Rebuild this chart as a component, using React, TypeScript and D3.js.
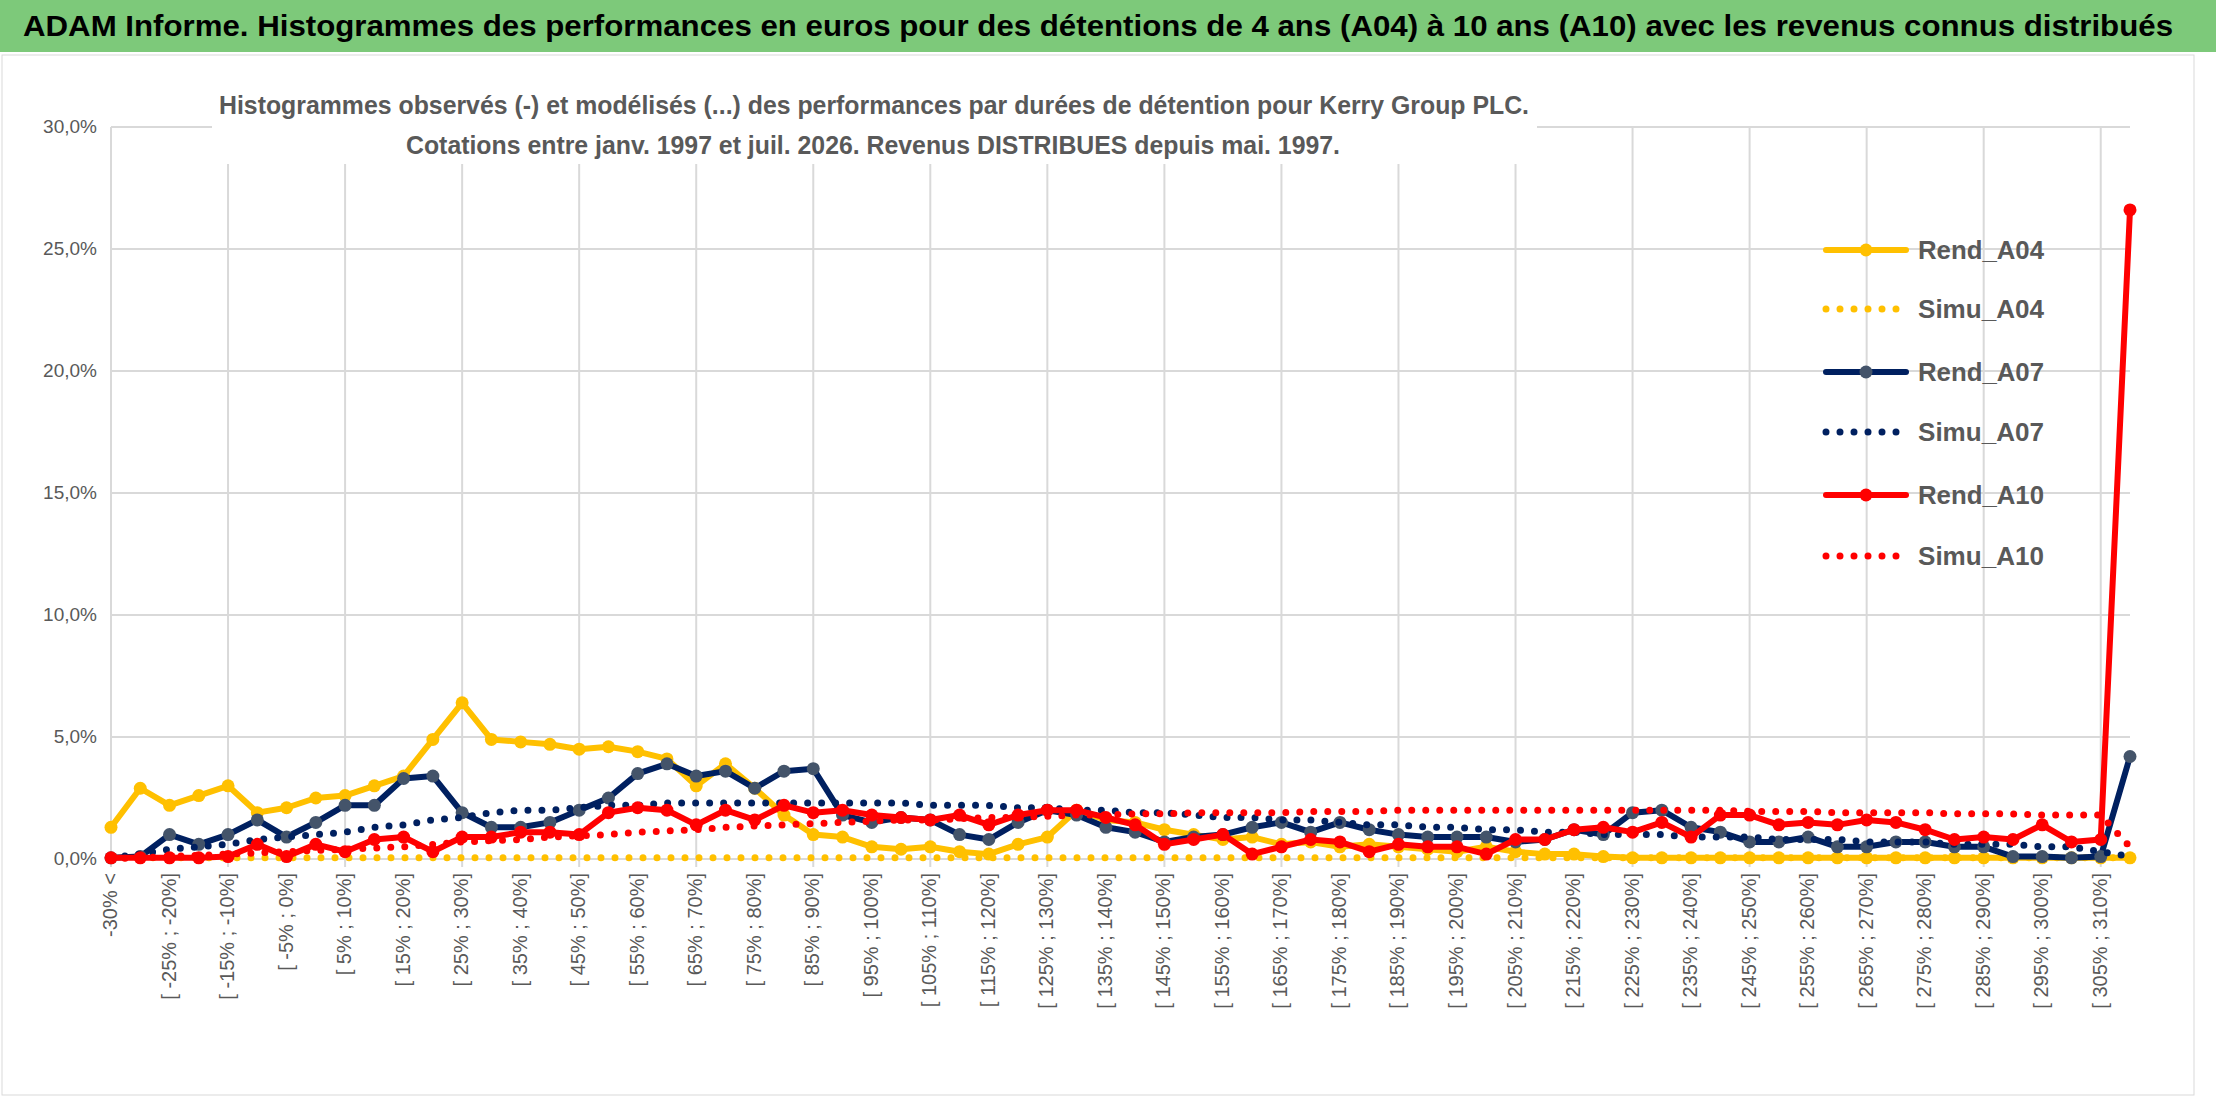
import React, { useEffect } from "react";
import * as d3 from "d3";

const rendA04 = [1.3,2.9,2.2,2.6,3.0,1.9,2.1,2.5,2.6,3.0,3.4,4.9,6.4,4.9,4.8,4.7,4.5,4.6,4.4,4.1,3.0,3.9,2.9,1.8,1.0,0.9,0.5,0.4,0.5,0.3,0.2,0.6,0.9,2.0,1.6,1.5,1.2,1.0,0.8,0.9,0.6,0.7,0.5,0.6,0.5,0.4,0.3,0.5,0.3,0.2,0.2,0.1,0.05,0.05,0.05,0.05,0.05,0.05,0.05,0.05,0.05,0.05,0.05,0.05,0.05,0.05,0.05,0.05,0.05,0.05];
const rendA07 = [0.05,0.1,1.0,0.6,1.0,1.6,0.9,1.5,2.2,2.2,3.3,3.4,1.9,1.3,1.3,1.5,2.0,2.5,3.5,3.9,3.4,3.6,2.9,3.6,3.7,1.8,1.5,1.7,1.6,1.0,0.8,1.5,2.0,1.8,1.3,1.1,0.7,0.9,1.0,1.3,1.5,1.1,1.5,1.2,1.0,0.9,0.9,0.9,0.7,0.8,1.2,1.0,1.9,2.0,1.3,1.1,0.7,0.7,0.9,0.5,0.5,0.7,0.7,0.5,0.5,0.1,0.1,0.05,0.1,4.2];
const rendA10 = [0.05,0.05,0.05,0.05,0.1,0.6,0.1,0.6,0.3,0.8,0.9,0.3,0.9,0.9,1.1,1.1,1.0,1.9,2.1,2.0,1.4,2.0,1.6,2.2,1.9,2.0,1.8,1.7,1.6,1.8,1.4,1.8,2.0,2.0,1.7,1.4,0.6,0.8,1.0,0.2,0.5,0.8,0.7,0.3,0.6,0.5,0.5,0.2,0.8,0.8,1.2,1.3,1.1,1.5,0.9,1.8,1.8,1.4,1.5,1.4,1.6,1.5,1.2,0.8,0.9,0.8,1.4,0.7,0.8,26.6];
const simuA04 = Array.from({ length: 70 }, () => 0.05);
const simuA07 = [0.05,0.2,0.4,0.5,0.6,0.8,0.9,1.0,1.1,1.3,1.4,1.6,1.7,1.9,2.0,2.0,2.1,2.2,2.2,2.3,2.3,2.3,2.3,2.3,2.3,2.3,2.3,2.3,2.2,2.2,2.2,2.1,2.1,2.0,2.0,1.9,1.9,1.8,1.7,1.7,1.6,1.6,1.5,1.4,1.4,1.3,1.3,1.2,1.2,1.1,1.1,1.0,1.0,1.0,0.9,0.9,0.9,0.8,0.8,0.8,0.7,0.7,0.7,0.6,0.6,0.6,0.5,0.5,0.3,0.1];
const simuA10 = [0.02,0.05,0.1,0.15,0.2,0.25,0.3,0.35,0.4,0.45,0.5,0.6,0.7,0.75,0.8,0.9,0.95,1.0,1.1,1.15,1.2,1.3,1.35,1.4,1.45,1.5,1.55,1.6,1.6,1.65,1.7,1.7,1.75,1.8,1.8,1.85,1.85,1.9,1.9,1.9,1.9,1.95,1.95,1.95,2.0,2.0,2.0,2.0,2.0,2.0,2.0,2.0,2.0,2.0,2.0,2.0,1.95,1.95,1.95,1.9,1.9,1.9,1.9,1.85,1.85,1.85,1.8,1.8,1.8,0.5];

const categories = ["-30% <", ...d3.range(68).map(k => `[ ${-30 + 5 * k}% ; ${-25 + 5 * k}%]`), "> 310%"];
const yTicks = [0, 5, 10, 15, 20, 25, 30];

const series = [
  { name: "Rend_A04", data: rendA04, color: "#FFC000", marker: "#FFC000", dotted: false },
  { name: "Simu_A04", data: simuA04, color: "#FFC000", marker: null, dotted: true },
  { name: "Rend_A07", data: rendA07, color: "#002060", marker: "#44546A", dotted: false },
  { name: "Simu_A07", data: simuA07, color: "#002060", marker: null, dotted: true },
  { name: "Rend_A10", data: rendA10, color: "#FF0000", marker: "#FF0000", dotted: false },
  { name: "Simu_A10", data: simuA10, color: "#FF0000", marker: null, dotted: true },
];

const FONT = "'Liberation Sans Narrow', 'Liberation Sans', Arial, sans-serif";

export default function App() {
  useEffect(() => { document.body.style.margin = "0"; }, []);
  const W = 2216, H = 1102;
  const x = d3.scaleLinear().domain([0, 69]).range([111, 2130]);
  const y = d3.scaleLinear().domain([0, 30]).range([859, 127]);
  const line = d3.line<number>().x((_, i) => x(i)).y(d => y(d));
  const grey = "#595959";
  const legendY = [250, 309, 372, 432, 495, 556];
  return (
    <svg width={W} height={H} style={{ display: "block", fontFamily: FONT }}>
      <rect x={0} y={0} width={W} height={H} fill="#fff" />
      <rect x={0} y={0} width={W} height={52} fill="#7DC97A" />
      <text x={W / 2 - 10} y={36} textAnchor="middle" fontSize={30} fontWeight="bold" fill="#000" textLength={2150} lengthAdjust="spacingAndGlyphs">
        ADAM Informe. Histogrammes des performances en euros pour des détentions de 4 ans (A04) à 10 ans (A10) avec les revenus connus distribués
      </text>
      <rect x={2} y={55} width={2192} height={1040} fill="none" stroke="#d9d9d9" />
      {yTicks.map(t => <line key={t} x1={x(0)} x2={x(69)} y1={y(t)} y2={y(t)} stroke="#d9d9d9" strokeWidth={2} />)}
      {d3.range(0, 70, 4).map(i => <line key={i} x1={x(i)} x2={x(i)} y1={y(30)} y2={y(0) + 8} stroke="#d9d9d9" strokeWidth={2} />)}
      {yTicks.map(t => <text key={t} x={97} y={y(t) + 6} textAnchor="end" fontSize={19} fill={grey}>{t.toFixed(1).replace(".", ",")}%</text>)}
      {categories.map((c, i) => i % 2 === 0 ? (
        <text key={i} transform={`translate(${x(i) + 6},${y(0) + 14}) rotate(-90)`} textAnchor="end" fontSize={20} fill={grey}>{c}</text>
      ) : null)}
      <rect x={212} y={82} width={1325} height={82} fill="#fff" />
      <text x={874} y={114} textAnchor="middle" fontSize={26} fontWeight="bold" fill={grey} textLength={1310} lengthAdjust="spacingAndGlyphs">Histogrammes observés (-) et modélisés (...) des performances par durées de détention pour Kerry Group PLC.</text>
      <text x={873} y={154} textAnchor="middle" fontSize={26} fontWeight="bold" fill={grey} textLength={934} lengthAdjust="spacingAndGlyphs">Cotations entre janv. 1997 et juil. 2026. Revenus DISTRIBUES depuis mai. 1997.</text>
      {series.map(s => (
        <g key={s.name}>
          <path d={line(s.data) || ""} fill="none" stroke={s.color} strokeWidth={s.dotted ? 7 : 6}
            strokeDasharray={s.dotted ? "0 14" : undefined} strokeLinecap="round" strokeLinejoin="round" />
          {s.marker && s.data.map((d, i) => <circle key={i} cx={x(i)} cy={y(d)} r={6.5} fill={s.marker!} />)}
        </g>
      ))}
      {series.map((s, k) => (
        <g key={s.name}>
          <line x1={1826} x2={1906} y1={legendY[k]} y2={legendY[k]} stroke={s.color} strokeWidth={s.dotted ? 7 : 6}
            strokeDasharray={s.dotted ? "0 14" : undefined} strokeLinecap="round" />
          {s.marker && <circle cx={1866} cy={legendY[k]} r={6.5} fill={s.marker} />}
          <text x={1918} y={legendY[k] + 9} fontSize={26} fontWeight="bold" fill={grey} textLength={126} lengthAdjust="spacingAndGlyphs">{s.name}</text>
        </g>
      ))}
    </svg>
  );
}
